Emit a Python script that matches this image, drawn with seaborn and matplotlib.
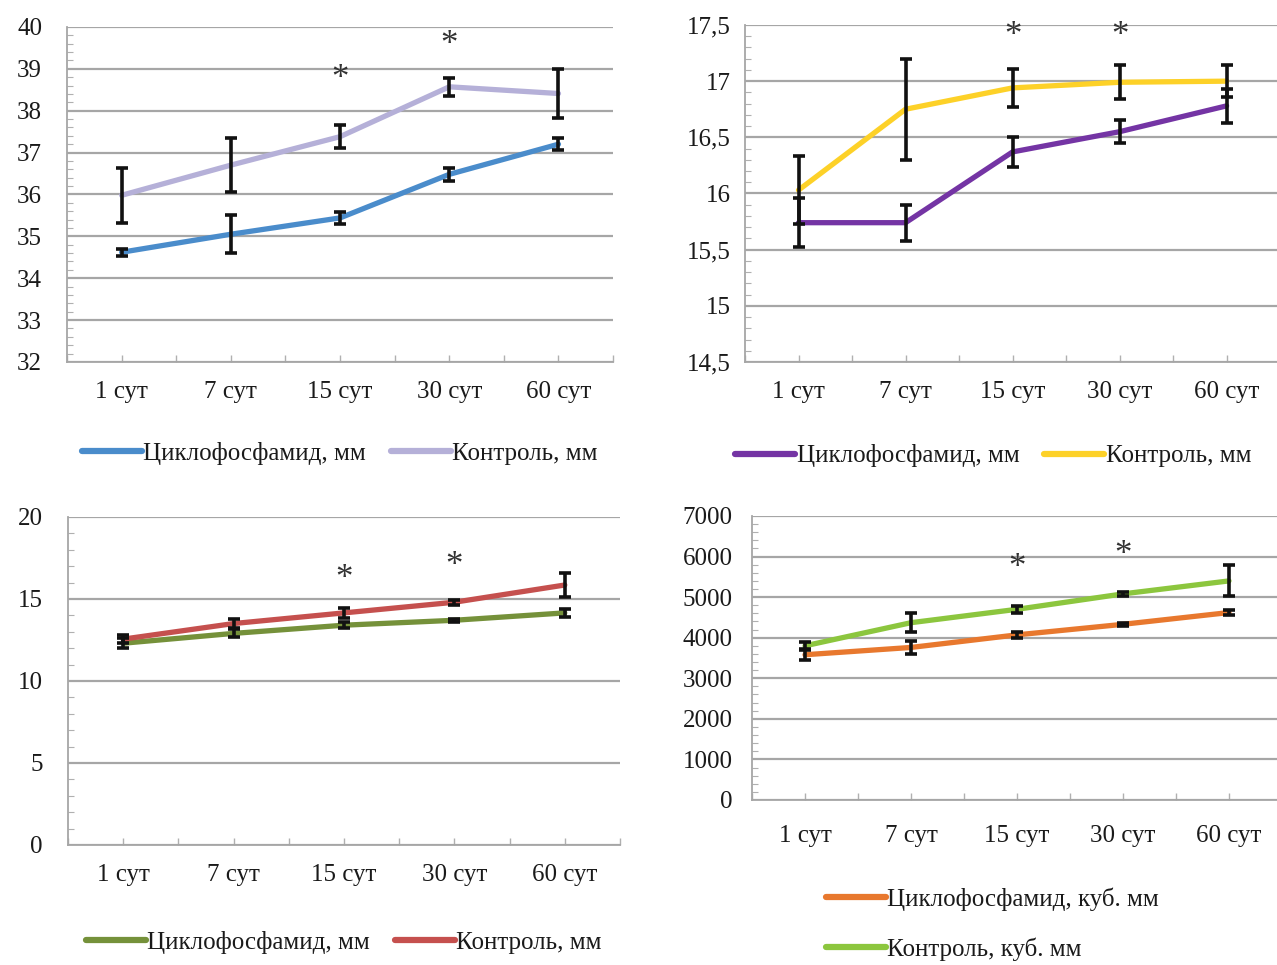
import matplotlib
matplotlib.use("Agg")
import matplotlib.pyplot as plt
import matplotlib.ticker as mticker
import seaborn as sns
import numpy as np
import pandas as pd

sns.set_theme(style="white")
plt.rcParams["font.family"] = ["Liberation Serif", "DejaVu Serif"]
plt.rcParams["text.color"] = "#1a1a1a"
plt.rcParams["axes.labelcolor"] = "#1a1a1a"
plt.rcParams["xtick.color"] = "#1a1a1a"
plt.rcParams["ytick.color"] = "#1a1a1a"

days = ["1 сут", "7 сут", "15 сут", "30 сут", "60 сут"]

# panel 1 (mm)
p1_cyclo = [34.62, 35.05, 35.44, 36.48, 37.2]
p1_cyclo_err = [0.08, 0.45, 0.15, 0.15, 0.15]
p1_ctrl = [35.98, 36.7, 37.38, 38.57, 38.41]
p1_ctrl_err = [0.65, 0.65, 0.28, 0.22, 0.58]

# panel 2 (mm)
p2_cyclo = [15.74, 15.74, 16.37, 16.55, 16.78]
p2_cyclo_err = [0.22, 0.16, 0.13, 0.10, 0.15]
p2_ctrl = [16.03, 16.75, 16.94, 16.99, 17.0]
p2_ctrl_err = [0.30, 0.45, 0.17, 0.15, 0.14]

# panel 3 (mm)
p3_cyclo = [12.3, 12.9, 13.4, 13.7, 14.15]
p3_cyclo_err = [0.3, 0.25, 0.2, 0.1, 0.25]
p3_ctrl = [12.55, 13.5, 14.15, 14.8, 15.85]
p3_ctrl_err = [0.25, 0.3, 0.3, 0.15, 0.75]

# panel 4 (cubic mm)
p4_cyclo = [3580, 3760, 4070, 4330, 4620]
p4_cyclo_err = [130, 160, 80, 40, 60]
p4_ctrl = [3800, 4370, 4700, 5080, 5400]
p4_ctrl_err = [100, 240, 80, 50, 380]

# significance marks (* above 15 and 30 days)
star_days = [2, 3]
p1_star_y = [38.75, 39.55]
p2_star_y = [17.4, 17.4]
p3_star_y = [16.2, 17.0]
p4_star_y = [5700, 6030]

labels_mm = ["Циклофосфамид, мм", "Контроль, мм"]
labels_cub = ["Циклофосфамид, куб. мм", "Контроль, куб. мм"]

FS = 18
GRID = "#a6a6a6"


def draw_panel(ax, cyclo, cyclo_err, ctrl, ctrl_err, names, colors, ylim, major, minor,
               star_y, comma=False, leg_anchor=(0.5, -0.27), ncol=2, ypad=18, xpad=14):
    df = pd.DataFrame({
        "day": days * 2,
        "value": cyclo + ctrl,
        "group": [names[0]] * 5 + [names[1]] * 5,
    })
    sns.lineplot(data=df, x="day", y="value", hue="group", palette=colors, lw=3.8,
                 ax=ax, legend=True, zorder=3)
    x = np.arange(len(days))
    for vals, errs in [(cyclo, cyclo_err), (ctrl, ctrl_err)]:
        ax.errorbar(x, vals, yerr=errs, fmt="none", ecolor="#111111", elinewidth=2.6,
                    capsize=4.5, capthick=2.6, zorder=4)
    for xs, ys in zip(star_days, star_y):
        ax.text(xs, ys, "*", ha="center", va="center", fontsize=25, color="#333333")

    ax.set_xlim(-0.5, len(days) - 0.5)
    ax.set_ylim(*ylim)
    ax.yaxis.set_major_locator(mticker.MultipleLocator(major))
    ax.yaxis.set_minor_locator(mticker.MultipleLocator(minor))
    if comma:
        ax.yaxis.set_major_formatter(mticker.FuncFormatter(
            lambda v, p: (f"{v:g}").replace(".", ",")))
    else:
        ax.yaxis.set_major_formatter(mticker.FuncFormatter(lambda v, p: f"{v:g}"))
    ax.grid(axis="y", color=GRID, lw=1.6)
    ax.set_axisbelow(True)
    ax.tick_params(axis="y", which="major", length=0, pad=ypad, labelsize=FS)
    ax.tick_params(axis="y", which="minor", left=True, direction="in", length=4,
                   width=0.8, color="#b0b0b0")
    ax.set_xticks(x)
    ax.set_xticklabels(days)
    ax.xaxis.set_minor_locator(mticker.FixedLocator(np.arange(-0.5, len(days), 1.0)))
    ax.tick_params(axis="x", which="major", bottom=True, direction="in", length=5,
                   width=1, color="#b0b0b0", pad=xpad, labelsize=FS)
    ax.tick_params(axis="x", which="minor", bottom=True, direction="in", length=5,
                   width=1, color="#b0b0b0")
    for side in ["top", "right"]:
        ax.spines[side].set_visible(False)
    for side in ["left", "bottom"]:
        ax.spines[side].set_color(GRID)
        ax.spines[side].set_linewidth(1.3)
    ax.set_xlabel("")
    ax.set_ylabel("")
    ax.legend(loc="center", bbox_to_anchor=leg_anchor, ncol=ncol, frameon=False,
              fontsize=FS, handlelength=2.4, handletextpad=0.05, columnspacing=1.0,
              labelspacing=1.05)
    for line in ax.get_legend().get_lines():
        line.set_linewidth(4.5)


fig = plt.figure(figsize=(12.77, 9.65), dpi=100)
fig.patch.set_facecolor("white")

ax1 = fig.add_axes([0.0525, 0.6249, 0.4276, 0.3472])
draw_panel(ax1, p1_cyclo, p1_cyclo_err, p1_ctrl, p1_ctrl_err, labels_mm,
           ["#4a8ccb", "#b5b0d8"], (32, 40), 1, 0.2, p1_star_y,
           leg_anchor=(0.5, -0.272))

ax2 = fig.add_axes([0.5834, 0.6249, 0.419, 0.3492])
draw_panel(ax2, p2_cyclo, p2_cyclo_err, p2_ctrl, p2_ctrl_err, labels_mm,
           ["#7434a4", "#fdd128"], (14.5, 17.5), 0.5, 0.1, p2_star_y, comma=True,
           leg_anchor=(0.464, -0.279), ypad=10)

ax3 = fig.add_axes([0.0532, 0.1244, 0.4323, 0.3399])
draw_panel(ax3, p3_cyclo, p3_cyclo_err, p3_ctrl, p3_ctrl_err, labels_mm,
           ["#75913a", "#c5504e"], (0, 20), 5, 1, p3_star_y,
           leg_anchor=(0.5, -0.296))

ax4 = fig.add_axes([0.5889, 0.171, 0.415, 0.2943])
draw_panel(ax4, p4_cyclo, p4_cyclo_err, p4_ctrl, p4_ctrl_err, labels_cub,
           ["#e8782e", "#8cc63e"], (0, 7000), 1000, 200, p4_star_y,
           leg_anchor=(0.453, -0.437), ncol=1, ypad=14, xpad=18)

fig.savefig("out.png", dpi=100)
